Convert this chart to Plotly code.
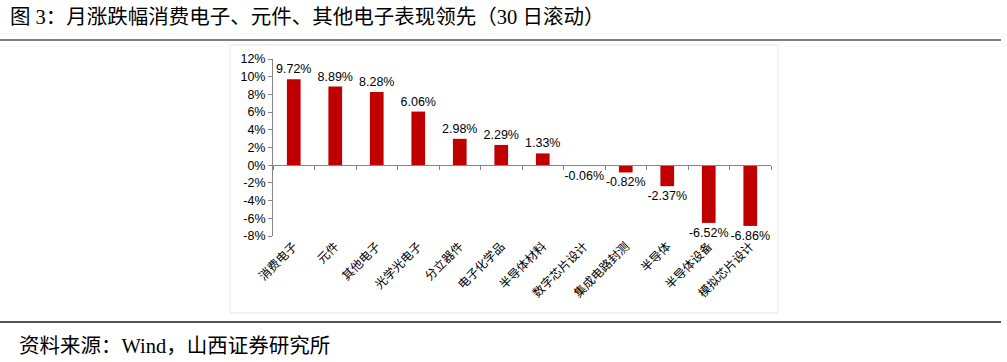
import plotly.graph_objects as go

categories = ["消费电子", "元件", "其他电子", "光学光电子", "分立器件", "电子化学品",
              "半导体材料", "数字芯片设计", "集成电路封测", "半导体", "半导体设备", "模拟芯片设计"]
values = [9.72, 8.89, 8.28, 6.06, 2.98, 2.29, 1.33, -0.06, -0.82, -2.37, -6.52, -6.86]
y_ticks = [-8, -6, -4, -2, 0, 2, 4, 6, 8, 10, 12]

W, H = 1007, 362
L, R, T, B = 273, 771, 59, 236  # plot area pixel bounds

def px(x):
    return (x - L) / (R - L)

def py(y):
    return (B - y) / (B - T)

ymin, ymax = -8, 12
zero_pos = (0 - ymin) / (ymax - ymin)

cjk = "Noto Sans CJK SC, Arial, sans-serif"
serif = "Liberation Serif, Times New Roman, Noto Sans CJK SC, serif"

fig = go.Figure()
fig.add_trace(go.Bar(
    x=categories, y=values,
    marker=dict(color="#C00000", line=dict(width=0)),
    width=0.33,
    text=[f"{v:.2f}%" for v in values],
    textposition="outside",
    constraintext="none",
    textfont=dict(family="Arial, Liberation Sans, sans-serif", size=12.5, color="#000000"),
    cliponaxis=False,
    showlegend=False,
))
fig.add_trace(go.Scatter(x=categories, y=[None] * len(categories), xaxis="x2",
                         showlegend=False, hoverinfo="skip"))

fig.update_layout(
    width=W, height=H,
    margin=dict(l=L, r=W - R, t=T, b=H - B),
    paper_bgcolor="white", plot_bgcolor="white",
    xaxis=dict(
        type="category", range=[-0.5, len(categories) - 0.5],
        showline=False, ticks="", tickangle=-45,
        tickfont=dict(family=cjk, size=12, color="#000000"),
        showgrid=False, zeroline=False,
    ),
    xaxis2=dict(
        type="category", overlaying="x", matches="x", anchor="free", position=zero_pos,
        showline=True, linecolor="#868686", linewidth=1,
        ticks="outside", tickson="boundaries", ticklen=4, tickcolor="#868686",
        showticklabels=False, showgrid=False, zeroline=False,
    ),
    yaxis=dict(
        range=[ymin, ymax], tickvals=y_ticks, ticktext=[f"{v}%" for v in y_ticks],
        showline=True, linecolor="#868686", linewidth=1,
        ticks="outside", ticklen=4, tickcolor="#868686",
        tickfont=dict(family="Arial, Liberation Sans, sans-serif", size=12.5, color="#000000"),
        showgrid=False, zeroline=False,
    ),
    shapes=[
        dict(type="rect", xref="paper", yref="paper",
             x0=px(230), x1=px(778), y0=py(313), y1=py(45),
             line=dict(color="#E6E6E6", width=1), layer="below"),
        dict(type="line", xref="paper", yref="paper",
             x0=px(0), x1=px(1001), y0=py(40), y1=py(40),
             line=dict(color="#7F7F7F", width=2)),
        dict(type="line", xref="paper", yref="paper",
             x0=px(0), x1=px(1001), y0=py(322), y1=py(322),
             line=dict(color="#1A1A1A", width=1.5)),
    ],
    annotations=[
        dict(text="图 3：月涨跌幅消费电子、元件、其他电子表现领先（30 日滚动）",
             xref="paper", yref="paper", x=px(8), y=py(17),
             xanchor="left", yanchor="middle", showarrow=False,
             font=dict(family=serif, size=20.5, color="#000000")),
        dict(text="资料来源：Wind，山西证券研究所",
             xref="paper", yref="paper", x=px(17), y=py(346),
             xanchor="left", yanchor="middle", showarrow=False,
             font=dict(family=serif, size=20.5, color="#000000")),
    ],
)

fig.write_html("out.html", config={"displayModeBar": False},
               post_script="document.body.style.margin='0';document.body.style.overflow='hidden';")
